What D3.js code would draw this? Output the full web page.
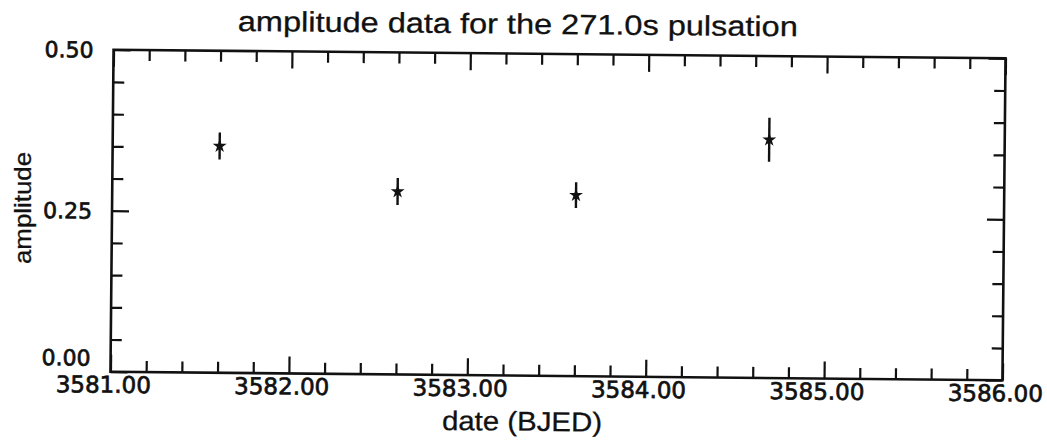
<!DOCTYPE html>
<html>
<head>
<meta charset="utf-8">
<script src="https://cdn.jsdelivr.net/npm/d3@7"></script>
<style>
  body { margin: 0; background: #fff; }
  svg { display: block; }
  .tick line { stroke: #111; stroke-width: 2.2; }
  .num { font-family: "DejaVu Sans", sans-serif; fill: #111; stroke: #111; stroke-width: 0.7; }
  .lbl { font-family: "Liberation Sans", Arial, sans-serif; fill: #111; stroke: #111; stroke-width: 0.3; }
</style>
</head>
<body>
<svg id="chart" width="1047" height="440"></svg>
<script>
// one amplitude measurement per night for the 271.0s pulsation
var dates = [3581.60, 3582.60, 3583.60, 3584.68];
var amps = [0.352, 0.284, 0.281, 0.370];
var ampErrs = [0.021, 0.021, 0.020, 0.034];

var xMajor = [3581, 3582, 3583, 3584, 3585, 3586];
var xTickLabels = ['3581.00', '3582.00', '3583.00', '3584.00', '3585.00', '3586.00'];
var yMajor = [0, 0.25, 0.5];
var yTickLabels = ['0.00', '0.25', '0.50'];

var margin = {left: 112, top: 54},
    width = 892,
    height = 322;

var svg = d3.select('#chart');

// the scanned page sits a little crooked, so tilt the whole plot
var page = svg.append('g')
  .attr('transform', 'rotate(0.55, 558, 215)');

var plot = page.append('g')
  .attr('transform', 'translate(' + margin.left + ',' + margin.top + ')');

var x = d3.scaleLinear().domain([3581, 3586]).range([0, width]);
var y = d3.scaleLinear().domain([0, 0.5]).range([height, 0]);

var xMinor = x.ticks(25).filter(function(d) { return xMajor.indexOf(Math.round(d * 10) / 10) < 0; });
var yMinor = y.ticks(10).filter(function(d) { return yMajor.indexOf(Math.round(d * 100) / 100) < 0; });

// ticks point inward on all four sides
function addAxis(axisFn, vals, size, tx, ty) {
  var g = plot.append('g')
    .attr('transform', 'translate(' + tx + ',' + ty + ')')
    .call(axisFn.tickValues(vals).tickSize(-size).tickFormat(''));
  g.select('.domain').remove();
  return g;
}

addAxis(d3.axisBottom(x), xMinor, 11, 0, height);
addAxis(d3.axisBottom(x), xMajor, 17, 0, height);
addAxis(d3.axisTop(x), xMinor, 11, 0, 0);
addAxis(d3.axisTop(x), xMajor, 17, 0, 0);
addAxis(d3.axisLeft(y), yMinor, 11, 0, 0);
addAxis(d3.axisLeft(y), yMajor, 17, 0, 0);
addAxis(d3.axisRight(y), yMinor, 11, width, 0);
addAxis(d3.axisRight(y), yMajor, 17, width, 0);

plot.append('rect')
  .attr('width', width)
  .attr('height', height)
  .attr('fill', 'none')
  .attr('stroke', '#111')
  .attr('stroke-width', 2.6);

// tick labels
plot.selectAll('text.xnum')
  .data(xMajor)
  .enter().append('text')
  .attr('class', 'num xnum')
  .attr('x', function(d) { return x(d) - 7; })
  .attr('y', height + 21)
  .attr('text-anchor', 'middle')
  .attr('font-size', 23)
  .text(function(d, i) { return xTickLabels[i]; });

// 0.00 sits just above 3581.00 so the two do not collide
plot.selectAll('text.ynum')
  .data(yMajor)
  .enter().append('text')
  .attr('class', 'num ynum')
  .attr('x', -20)
  .attr('y', function(d) { return y(d) + (d === 0 ? -6 : 8); })
  .attr('text-anchor', 'end')
  .attr('font-size', 22)
  .text(function(d, i) { return yTickLabels[i]; });

// titles
plot.append('text')
  .attr('class', 'lbl')
  .attr('x', 404)
  .attr('y', -20)
  .attr('text-anchor', 'middle')
  .attr('font-size', 28)
  .attr('textLength', 560)
  .attr('lengthAdjust', 'spacingAndGlyphs')
  .text('amplitude data for the 271.0s pulsation');

plot.append('text')
  .attr('class', 'lbl')
  .attr('x', 412)
  .attr('y', height + 55)
  .attr('text-anchor', 'middle')
  .attr('font-size', 27)
  .attr('textLength', 160)
  .attr('lengthAdjust', 'spacingAndGlyphs')
  .text('date (BJED)');

svg.append('text')
  .attr('class', 'lbl')
  .attr('transform', 'translate(31,208) rotate(-90)')
  .attr('text-anchor', 'middle')
  .attr('font-size', 24)
  .attr('textLength', 112)
  .attr('lengthAdjust', 'spacingAndGlyphs')
  .text('amplitude');

// error bars and markers
var pts = dates.map(function(d, i) { return {date: d, amp: amps[i], err: ampErrs[i]}; });

plot.selectAll('line.err')
  .data(pts)
  .enter().append('line')
  .attr('class', 'err')
  .attr('x1', function(d) { return x(d.date); })
  .attr('x2', function(d) { return x(d.date); })
  .attr('y1', function(d) { return y(d.amp - d.err); })
  .attr('y2', function(d) { return y(d.amp + d.err); })
  .attr('stroke', '#111')
  .attr('stroke-width', 2.4);

plot.selectAll('path.pt')
  .data(pts)
  .enter().append('path')
  .attr('class', 'pt')
  .attr('transform', function(d) { return 'translate(' + x(d.date) + ',' + y(d.amp) + ')'; })
  .attr('d', d3.symbol().type(d3.symbolStar).size(60))
  .attr('fill', '#111');
</script>
</body>
</html>
